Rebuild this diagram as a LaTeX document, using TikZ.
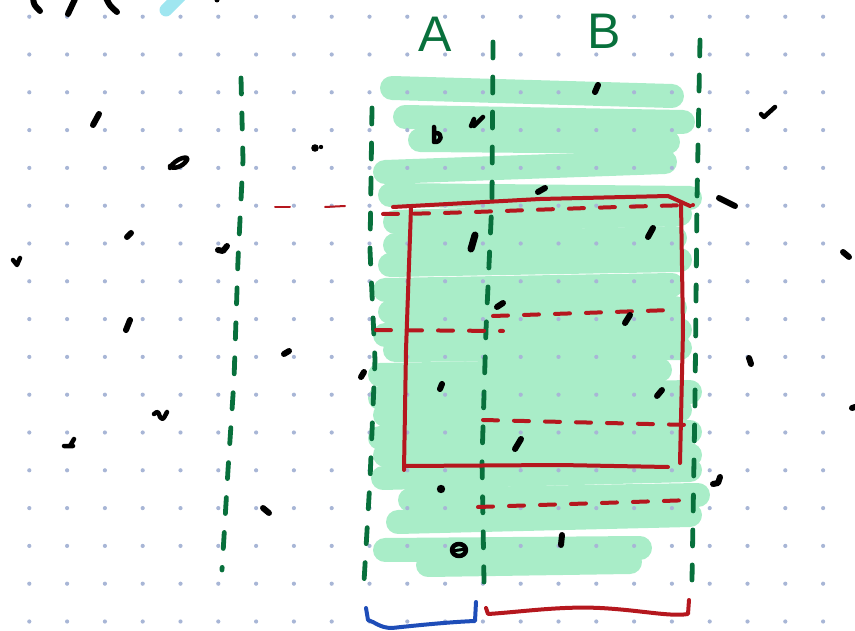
\documentclass[tikz,border=0pt]{standalone}
\usepackage{fontspec}
\setsansfont{Liberation Sans}
\definecolor{dotc}{HTML}{A8B6D6}
\definecolor{hl}{HTML}{A9EDC8}
\definecolor{gline}{HTML}{08703C}
\definecolor{redc}{HTML}{B5171E}
\definecolor{bluec}{HTML}{1E4DB8}
\definecolor{cyanc}{HTML}{9FE6F0}
\tikzset{
  hlstroke/.style={hl, line width=24pt, line cap=round},
  gdash/.style={gline, line width=4.8pt, line cap=round, dash pattern=on 16pt off 19pt},
  rline/.style={redc, line width=4pt, line cap=round, line join=round},
  rdash/.style={redc, line width=4pt, line cap=round, dash pattern=on 15pt off 16pt},
  ink/.style={black, line width=6pt, line cap=round, line join=round},
  lab/.style={text=gline, font=\fontsize{50}{50}\selectfont\sffamily, inner sep=0pt},
}
\begin{document}
\begin{tikzpicture}[x=1pt,y=-1pt]
\useasboundingbox (0,0) rectangle (855,631);
% highlighter
\foreach \xa/\ya/\xb/\yb in {392/88/672/96, 405/117/683/122, 420/140/668/142, 385/172/665/162,
  390/195/690/198, 395/222/680/214, 395/245/675/238, 390/265/680/260, 385/290/672/285,
  390/312/675/308, 385/335/680/330, 395/350/680/348, 380/375/660/370, 380/398/690/392,
  385/415/680/410, 380/438/690/432, 385/455/690/455, 383/478/690/470, 410/500/698/495,
  398/522/690/515, 385/550/640/548, 428/565/630/562}
  \draw[hlstroke] (\xa,\ya) -- (\xb,\yb);
% dot grid
\foreach \i in {0,...,21}
  \foreach \j in {0,...,16}
    \fill[dotc] ({29.3+37.8*\i},{16.7+37.8*\j}) circle (2.1);
% green dashed verticals
\draw[gdash] (241,78) -- (243,160) -- (238,260) -- (234,380) -- (228,470) -- (222,570);
\draw[gdash] (372,108) -- (370,250) -- (375,360) -- (370,480) -- (364,582);
\draw[gdash] (493,42) -- (492,200) -- (486,330) -- (482,460) -- (484,582);
\draw[gdash] (700,40) -- (697,200) -- (695,400) -- (692,580);
% labels
\node[lab] (labA) at (435,34) {A};
\node[lab] (labB) at (604,31) {B};
% red rectangle
\draw[rline] (393,207) -- (540,199) -- (668,196) -- (690,206);
\draw[rline] (681,202) -- (683,330) -- (680,463);
\draw[rline] (411,208) -- (406,350) -- (404,470);
\draw[rline] (405,466) -- (560,465) -- (668,467);
% red dashes
\draw[rdash] (383,214) .. controls (450,214) and (560,208) .. (693,205);
\draw[rdash] (376,330) -- (503,331);
\draw[rdash] (493,316) -- (672,310);
\draw[rdash] (483,420) -- (690,425);
\draw[rdash] (478,507) -- (693,500);
\draw[redc, line width=2pt, line cap=round] (275,207) -- (290,207);
\draw[redc, line width=2pt, line cap=round] (325,207) -- (345,206);
% brackets
\draw[bluec, line width=4pt, line cap=round, line join=round] (366,608) -- (368,620)
  .. controls (375,622) and (380,628) .. (392,628) .. controls (420,625) and (450,622) .. (475,621) -- (476,602);
\draw[rline] (486,608) -- (488,614) .. controls (520,612) and (560,606) .. (600,608)
  .. controls (640,610) and (670,617) .. (688,614) -- (689,600);
% cyan stroke
\draw[cyanc, line width=13pt, line cap=round] (166,10) -- (180,-4);
% black marks outside
\draw[ink] (33,-2) .. controls (34,5) .. (40,11);
\draw[ink] (75,-1) -- (68,14);
\draw[ink] (106,-2) .. controls (110,6) .. (117,12);
\fill (217,0) circle (2.5);
\draw[ink] (93,125) -- (99,114);
\draw[ink, line width=4.5pt] (170,168) .. controls (175,158) and (190,155) .. (187,160) .. controls (183,167) and (172,170) .. (170,166);
\fill (315,148) circle (3.8); \fill (321,147) circle (2.2);
\draw[ink] (127,237) -- (131,233);
\draw[ink, line width=4.5pt] (13,260) -- (17,265) -- (20,258);
\draw[ink] (218,250) -- (223,251) -- (227,246);
\draw[ink] (126,330) -- (130,320);
\draw[ink] (284,354) -- (289,351);
\draw[ink] (361,377) -- (364,372);
\draw[ink, line width=4.5pt] (154,414) .. controls (158,411) .. (160,417) .. controls (163,420) .. (167,412);
\draw[ink, line width=4.5pt] (64,446) -- (73,446) (70,446) -- (74,439);
\draw[ink] (263,508) -- (269,513);
\draw[ink, line width=4.5pt] (761,114) -- (764,117) -- (775,107);
\draw[ink] (719,198) -- (735,206);
\draw[ink] (843,252) -- (849,257);
\draw[ink] (749,358) -- (751,364);
\draw[ink] (852,408) -- (855,407);
\draw[ink] (713,484) -- (718,483) -- (720,477);
% black marks inside
\draw[ink] (595,92) -- (598,85);
\draw[ink, line width=4.5pt] (434,127) -- (434,142) .. controls (442,143) and (443,133) .. (436,133);
\draw[ink, line width=4.5pt] (471,126) -- (474,119) (474,126) -- (483,117);
\draw[ink] (538,192) -- (545,188);
\draw[ink, line width=7pt] (471,249) -- (475,235);
\draw[ink] (648,237) -- (653,228);
\draw[ink] (497,307) -- (503,303);
\draw[ink] (625,323) -- (630,315);
\draw[ink] (440,389) -- (442,384);
\draw[ink] (657,396) -- (662,390);
\draw[ink] (515,449) -- (521,439);
\fill (441,489) circle (4.2);
\draw[ink, line width=4.5pt] (459,550) ellipse (7 and 6);
\draw[ink, line width=3pt] (452,551) -- (466,549);
\draw[ink] (561,545) -- (562,535);
\end{tikzpicture}
\end{document}
